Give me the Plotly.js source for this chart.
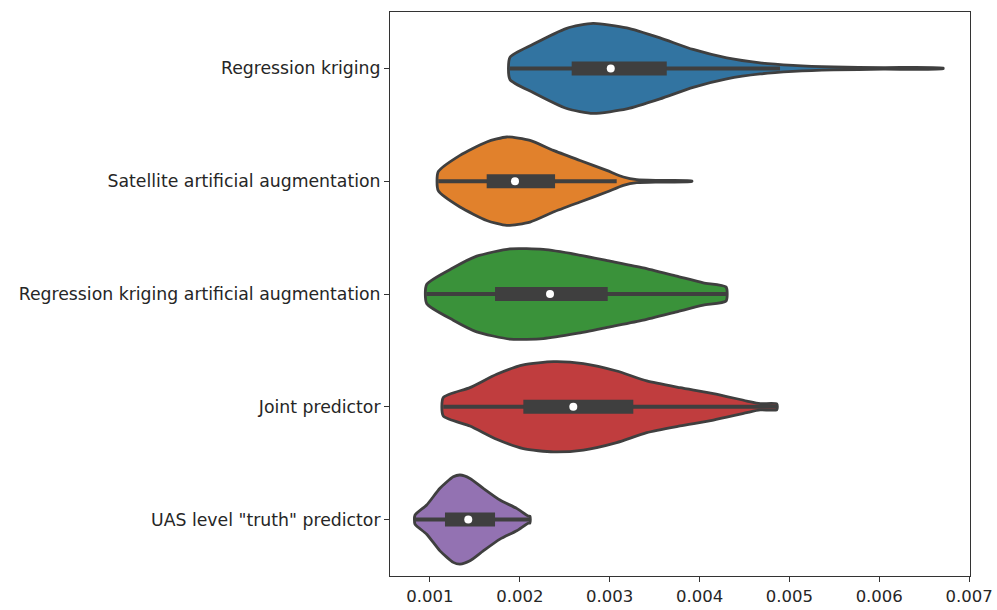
<!DOCTYPE html>
<html>
<head>
<meta charset="utf-8">
<script src="https://cdn.plot.ly/plotly-3.0.1.min.js"></script>
<style>html,body{margin:0;padding:0;background:#fff;}</style>
</head>
<body>
<div id="chart" style="width:997px;height:610px;"></div>
<script>
// Categories (top to bottom)
const categories = [
  "Regression kriging",
  "Satellite artificial augmentation",
  "Regression kriging artificial augmentation",
  "Joint predictor",
  "UAS level \"truth\" predictor"
];

// Density profile of each violin: value grid and relative half-width (max = 1)
const gridRK   = [0.00189,0.002147,0.002522,0.002815,0.00319,0.00356,0.003928,0.004303,0.004674,0.005041,0.005486,0.006043,0.006711];
const densRK   = [0.245,0.533,0.888,0.998,0.898,0.675,0.42,0.233,0.123,0.068,0.033,0.018,0.008];
const gridSAT  = [0.001092,0.001334,0.001631,0.001854,0.002113,0.002373,0.00267,0.002967,0.003152,0.003301,0.00356,0.003913];
const densSAT  = [0.21,0.573,0.87,0.98,0.905,0.683,0.46,0.24,0.093,0.033,0.018,0.008];
const gridRKAA = [0.000963,0.001259,0.00152,0.001891,0.002261,0.002633,0.003004,0.003374,0.003746,0.004042,0.004295];
const densRKAA = [0.21,0.58,0.838,1.0,0.988,0.875,0.728,0.58,0.395,0.248,0.155];
const gridJP   = [0.001148,0.001445,0.001742,0.002039,0.002373,0.002707,0.003078,0.003412,0.003783,0.004154,0.004526,0.004674,0.00486];
const densJP   = [0.205,0.425,0.72,0.928,1.0,0.958,0.793,0.573,0.425,0.293,0.128,0.07,0.065];
const gridUAS  = [0.000833,0.000963,0.001111,0.001259,0.001334,0.001445,0.001593,0.001779,0.001965,0.002094,0.002113];
const densUAS  = [0.1,0.323,0.693,0.948,0.988,0.913,0.693,0.433,0.248,0.078,0.075];

// Box statistics
const whiskerLow  = [0.00189, 0.001092, 0.000963, 0.001148, 0.000833];
const q1          = [0.002577, 0.001631, 0.001724, 0.002039, 0.001167];
const median      = [0.003012, 0.001946, 0.002336, 0.002595, 0.001426];
const q3          = [0.003635, 0.002392, 0.002978, 0.003263, 0.001724];
const whiskerHigh = [0.004896, 0.003078, 0.004295, 0.00486, 0.002113];

const xTicks = [0.001, 0.002, 0.003, 0.004, 0.005, 0.006, 0.007];

const grids = [gridRK, gridSAT, gridRKAA, gridJP, gridUAS];
const dens  = [densRK, densSAT, densRKAA, densJP, densUAS];
const colors = ["#3274a1", "#e1812c", "#3a923a", "#c03d3e", "#9372b2"];
const edge = "#3f3f3f";
const halfMax = 0.4;

const traces = [];
categories.forEach((c, i) => {
  const g = grids[i], d = dens[i];
  const xs = g.concat(g.slice().reverse()).concat([g[0]]);
  const ys = d.map(v => i - v * halfMax)
    .concat(d.slice().reverse().map(v => i + v * halfMax))
    .concat([i - d[0] * halfMax]);
  traces.push({
    type: "scatter", mode: "lines", x: xs, y: ys,
    fill: "toself", fillcolor: colors[i],
    line: {color: edge, width: 2.8, shape: "spline", smoothing: 0.6},
    hoverinfo: "skip", showlegend: false
  });
  traces.push({
    type: "scatter", mode: "lines", x: [whiskerLow[i], whiskerHigh[i]], y: [i, i],
    line: {color: edge, width: 4}, hoverinfo: "skip", showlegend: false
  });
  traces.push({
    type: "scatter", mode: "lines", x: [q1[i], q3[i]], y: [i, i],
    line: {color: edge, width: 14}, hoverinfo: "skip", showlegend: false
  });
  traces.push({
    type: "scatter", mode: "markers", x: [median[i]], y: [i],
    marker: {color: "#ffffff", size: 8, line: {width: 0}}, hoverinfo: "skip", showlegend: false
  });
});

const layout = {
  width: 997, height: 610,
  margin: {l: 390, r: 27, t: 12, b: 34},
  paper_bgcolor: "#ffffff", plot_bgcolor: "#ffffff",
  font: {family: "DejaVu Sans", size: 17, color: "#262626"},
  xaxis: {
    range: [0.000555, 0.00701],
    tickvals: xTicks, ticktext: xTicks.map(v => v.toFixed(3)),
    ticks: "outside", ticklen: 5, tickcolor: "#333333", tickwidth: 1,
    showgrid: false, zeroline: false,
    showline: true, linecolor: "#333333", linewidth: 1, mirror: true,
    tickfont: {size: 16.5}
  },
  yaxis: {
    range: [4.5, -0.5],
    tickvals: [0, 1, 2, 3, 4], ticktext: categories,
    ticks: "outside", ticklen: 5, tickcolor: "#333333", tickwidth: 1,
    showgrid: false, zeroline: false,
    showline: true, linecolor: "#333333", linewidth: 1, mirror: true,
    tickfont: {size: 17.3}
  },
  showlegend: false
};

Plotly.newPlot("chart", traces, layout, {displayModeBar: false, staticPlot: true});
</script>
</body>
</html>
